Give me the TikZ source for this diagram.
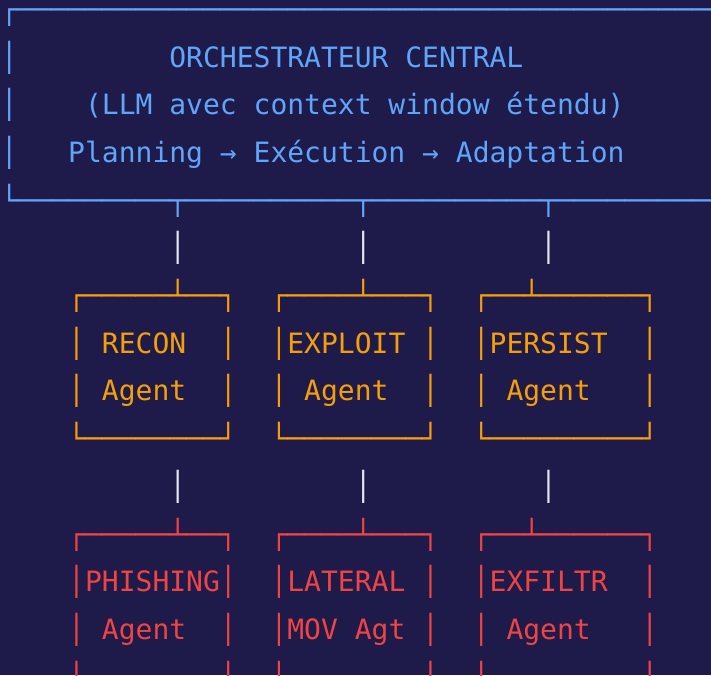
\documentclass[tikz,border=0pt]{standalone}
\usepackage{fontspec}
\newfontfamily\gridfont{DejaVu Sans Mono}

\definecolor{bgnavy}{HTML}{1E1B4B}
\definecolor{inkblue}{HTML}{60A5FA}
\definecolor{inkgold}{HTML}{F59E0B}
\definecolor{inkred}{HTML}{EF4444}
\definecolor{inkwire}{HTML}{E2E8F0}

% n copies of the light horizontal box-drawing glyph
\newcommand\ruleglyphs[1]{\ifnum#1>0 ─\expandafter\ruleglyphs\expandafter{\the\numexpr#1-1\relax}\fi}

\tikzset{
  glyph/.style={anchor=base west, inner sep=0pt, outer sep=0pt,
                font=\gridfont\fontsize{28}{34}\selectfont},
  % character grid: column width 16.857pt, row pitch 47.7pt
  cell/.style 2 args={at={({0.8+(#1)*16.857},{-(19.3+(#2)*47.7)})}},
  blueink/.style={text=inkblue},
  goldink/.style={text=inkgold},
  redink/.style={text=inkred},
  wireink/.style={text=inkwire},
}

\begin{document}
\begin{tikzpicture}[x=1pt,y=1pt]
\useasboundingbox (0,0) rectangle (711,-675);
\fill[bgnavy] (0,0) rectangle (711,-675);
\clip (0,0) rectangle (711,-675);

% central orchestrator frame
\node[glyph,blueink,cell={0}{0}] (orch-top) {┌\ruleglyphs{46}};
\foreach \r in {1,2,3}
  \node[glyph,blueink,cell={0}{\r}] (orch-l\r) {│};
\node[glyph,blueink,cell={10}{1}] (orch-title) {ORCHESTRATEUR CENTRAL};
\node[glyph,blueink,cell={5}{2}] (orch-model) {(LLM avec context window étendu)};
\node[glyph,blueink,cell={4}{3}] (orch-loop) {Planning → Exécution → Adaptation};
\node[glyph,blueink,cell={0}{4}] (orch-bottom)
  {└\ruleglyphs{9}┬\ruleglyphs{10}┬\ruleglyphs{10}┬\ruleglyphs{14}};

% wires between the tiers
\foreach \c/\k in {10/a,21/b,32/c} {
  \node[glyph,wireink,cell={\c}{5}] (wire-upper-\k) {│};
  \node[glyph,wireink,cell={\c}{10}] (wire-lower-\k) {│};
}

% first tier of agents
\foreach \nm/\c/\w/\s/\ca/\ta/\cb/\tb in
  {recon/4/10/10/6/RECON/6/Agent,
   exploit/16/10/21/17/EXPLOIT/18/Agent,
   persist/28/11/31/29/PERSIST/30/Agent} {
  \pgfmathtruncatemacro\rc{\c+\w-1}
  \pgfmathtruncatemacro\na{\s-\c-1}
  \pgfmathtruncatemacro\nb{\rc-\s-1}
  \pgfmathtruncatemacro\nf{\w-2}
  \node[glyph,goldink,cell={\c}{6}] (\nm-top) {┌\ruleglyphs{\na}┴\ruleglyphs{\nb}┐};
  \foreach \r in {7,8} {
    \node[glyph,goldink,cell={\c}{\r}] (\nm-l\r) {│};
    \node[glyph,goldink,cell={\rc}{\r}] (\nm-r\r) {│};
  }
  \node[glyph,goldink,cell={\ca}{7}] (\nm-name) {\ta};
  \node[glyph,goldink,cell={\cb}{8}] (\nm-role) {\tb};
  \node[glyph,goldink,cell={\c}{9}] (\nm-bottom) {└\ruleglyphs{\nf}┘};
}

% second tier of agents
\foreach \nm/\c/\w/\s/\ca/\ta/\cb/\tb in
  {phishing/4/10/10/5/PHISHING/6/Agent,
   lateral/16/10/21/17/LATERAL/17/MOV Agt,
   exfiltr/28/11/31/29/EXFILTR/30/Agent} {
  \pgfmathtruncatemacro\rc{\c+\w-1}
  \pgfmathtruncatemacro\na{\s-\c-1}
  \pgfmathtruncatemacro\nb{\rc-\s-1}
  \node[glyph,redink,cell={\c}{11}] (\nm-top) {┌\ruleglyphs{\na}┴\ruleglyphs{\nb}┐};
  \foreach \r in {12,13,14} {
    \node[glyph,redink,cell={\c}{\r}] (\nm-l\r) {│};
    \node[glyph,redink,cell={\rc}{\r}] (\nm-r\r) {│};
  }
  \node[glyph,redink,cell={\ca}{12}] (\nm-name) {\ta};
  \node[glyph,redink,cell={\cb}{13}] (\nm-role) {\tb};
}
\end{tikzpicture}
\end{document}
